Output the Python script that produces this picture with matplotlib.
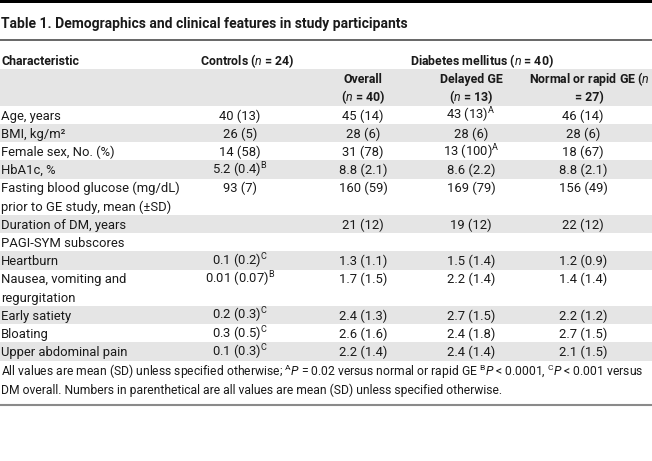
import matplotlib
matplotlib.use("Agg")
import matplotlib.pyplot as plt

plt.rcParams['font.family'] = ['Roboto', 'DejaVu Sans']
plt.rcParams['mathtext.fontset'] = 'custom'
plt.rcParams['mathtext.rm'] = 'Roboto'
plt.rcParams['mathtext.it'] = 'Roboto:italic'
plt.rcParams['mathtext.bf'] = 'Roboto:bold'

# table content
title = "Table 1. Demographics and clinical features in study participants"
labels = ["Age, years", "BMI, kg/m²", "Female sex, No. (%)", "HbA1c, %",
          "Fasting blood glucose (mg/dL)\nprior to GE study, mean (±SD)",
          "Duration of DM, years", "PAGI-SYM subscores", "Heartburn",
          "Nausea, vomiting and\nregurgitation", "Early satiety", "Bloating",
          "Upper abdominal pain"]
controls = ["40 (13)", "26 (5)", "14 (58)", "5.2 (0.4)", "93 (7)", "", "",
            "0.1 (0.2)", "0.01 (0.07)", "0.2 (0.3)", "0.3 (0.5)", "0.1 (0.3)"]
controls_sup = ["", "", "", "B", "", "", "", "C", "B", "C", "C", "C"]
overall = ["45 (14)", "28 (6)", "31 (78)", "8.8 (2.1)", "160 (59)", "21 (12)", "",
           "1.3 (1.1)", "1.7 (1.5)", "2.4 (1.3)", "2.6 (1.6)", "2.2 (1.4)"]
delayed = ["43 (13)", "28 (6)", "13 (100)", "8.6 (2.2)", "169 (79)", "19 (12)", "",
           "1.5 (1.4)", "2.2 (1.4)", "2.7 (1.5)", "2.4 (1.8)", "2.4 (1.4)"]
delayed_sup = ["A", "", "A", "", "", "", "", "", "", "", "", ""]
normal = ["46 (14)", "28 (6)", "18 (67)", "8.8 (2.1)", "156 (49)", "22 (12)", "",
          "1.2 (0.9)", "1.4 (1.4)", "2.2 (1.2)", "2.7 (1.5)", "2.1 (1.5)"]
footnote = ["All values are mean (SD) unless specified otherwise; "
            r"${}^{\mathrm{A}}\mathit{P}$ = 0.02 versus normal or rapid GE "
            r"${}^{\mathrm{B}}\mathit{P}$ < 0.0001, ${}^{\mathrm{C}}\mathit{P}$ < 0.001 versus",
            "DM overall. Numbers in parenthetical are all values are mean (SD) unless specified otherwise."]

fig = plt.figure(figsize=(6.52, 4.61), dpi=100)
ax = fig.add_axes([0, 0, 1, 1])
ax.set_xlim(0, 652)
ax.set_ylim(461, 0)
ax.axis('off')

fs = 9.4
hfs = 8.9
band = '#e5e5e5'
pitch = 18.2
base = 4.6  # baseline offset from line centre


def txt(x, y, s, ha='left', size=None, **kw):
    return ax.text(x, y + base, s, ha=ha, va='baseline', fontsize=size or fs,
                   color='#1a1a1a', **kw)


def head(x, y, s, ha='left'):
    return txt(x, y, s, ha=ha, size=hfs, fontweight='bold')


def sup(v, s):
    return v + (r"$^{\mathrm{%s}}$" % s if s else "")


# top bar, title and rule
ax.axhspan(0, 3.5, color='black', lw=0)
txt(1, 23, title, size=10, fontweight='bold')
ax.axhline(40.5, color='#4d4d4d', lw=1.2)

# header
y0 = 115
hy = y0 - 3 * pitch
head(1, hy, "Characteristic")
head(200, hy, r"Controls ($\mathit{n}$ = 24)")
head(410, hy, r"Diabetes mellitus ($\mathit{n}$ = 40)")
ax.axhspan(y0 - 2.55 * pitch, y0 - 0.5 * pitch, color=band, lw=0)
cols = [240, 363, 471, 583]
head(cols[1], y0 - 2 * pitch, "Overall", ha='center')
head(cols[1], y0 - pitch, r"($\mathit{n}$ = 40)", ha='center')
head(cols[2], y0 - 2 * pitch, "Delayed GE", ha='center')
head(cols[2], y0 - pitch, r"($\mathit{n}$ = 13)", ha='center')
head(589, y0 - 2 * pitch, r"Normal or rapid GE ($\mathit{n}$", ha='center')
head(589, y0 - pitch, "= 27)", ha='center')

# body rows
y = y0
for i, lab in enumerate(labels):
    nl = lab.count("\n") + 1
    if i % 2 == 1:
        ax.axhspan(y - 0.5 * pitch, y + (nl - 0.5) * pitch, color=band, lw=0)
    for k, part in enumerate(lab.split("\n")):
        txt(1, y + k * pitch, part)
    txt(cols[0], y, sup(controls[i], controls_sup[i]), ha='center')
    txt(cols[1], y, overall[i], ha='center')
    txt(cols[2], y, sup(delayed[i], delayed_sup[i]), ha='center')
    txt(cols[3], y, normal[i], ha='center')
    y += nl * pitch

# footnote, shrunk to fit the table width
r = fig.canvas.get_renderer()
t = txt(1, y + 0.1 * pitch, footnote[0])
w = t.get_window_extent(r).width
nfs = min(fs, fs * 640 / w)
t.set_fontsize(nfs)
txt(1, y + 1.1 * pitch, footnote[1], size=nfs)
ax.axhline(y + 1.95 * pitch, color='#8a8a8a', lw=1.5)

fig.savefig("out.png", dpi=100)
